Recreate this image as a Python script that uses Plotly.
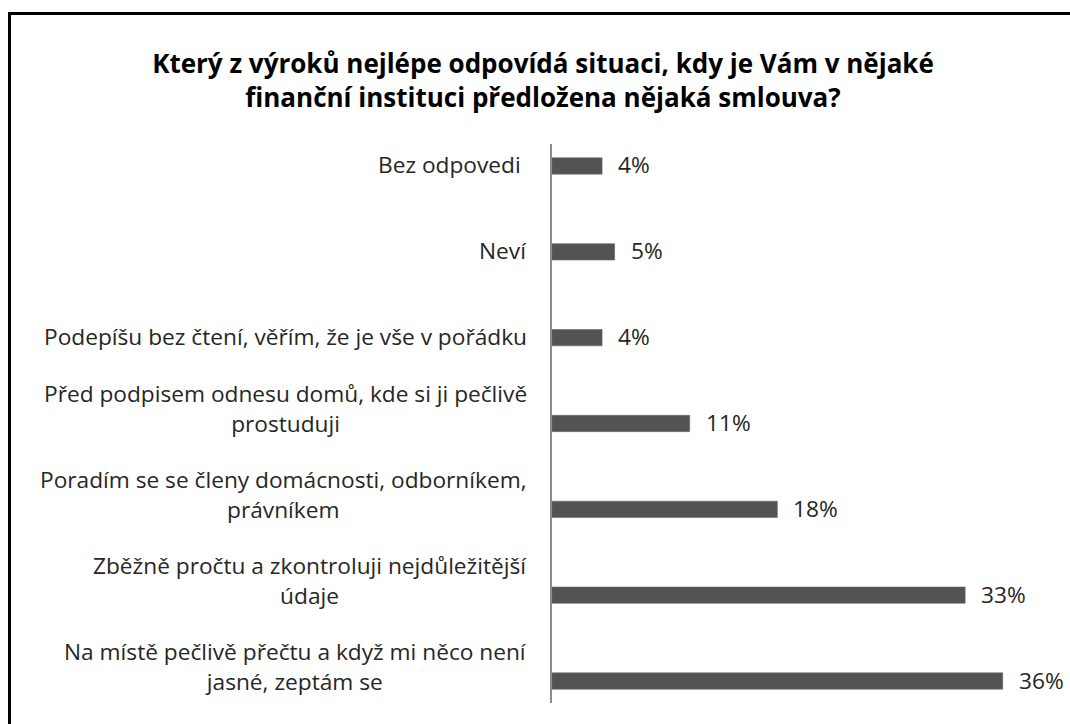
import plotly.graph_objects as go

categories = [
    "Na místě pečlivě přečtu a když mi něco není<br>jasné, zeptám se",
    "Zběžně pročtu a zkontroluji nejdůležitější<br>údaje",
    "Poradím se se členy domácnosti, odborníkem,<br>právníkem",
    "Před podpisem odnesu domů, kde si ji pečlivě<br>prostuduji",
    "Podepíšu bez čtení, věřím, že je vše v pořádku",
    "Neví",
    "Bez odpovedi ",
]
values = [36, 33, 18, 11, 4, 5, 4]
value_labels = ["36%", "33%", "18%", "11%", "4%", "5%", "4%"]
title_text = "Který z výroků nejlépe odpovídá situaci, kdy je Vám v nějaké<br>finanční instituci předložena nějaká smlouva?"

W, H = 1070, 724
ML, MT, MB = 552, 144, 21
PW = W - ML
PH = H - MT - MB
ypos = list(range(len(categories)))

fig = go.Figure()
fig.add_trace(go.Bar(
    y=ypos, x=values, orientation="h",
    marker=dict(color="#535353", line=dict(color="#6a6a6a", width=0.6)),
    width=0.19, hoverinfo="skip",
))

font_family = "'Open Sans', 'Noto Sans', sans-serif"
ann = []
for i, (c, v, t) in enumerate(zip(categories, values, value_labels)):
    nlines = c.count("<br>") + 1
    ann.append(dict(x=0, y=i, xref="x", yref="y", text=c, showarrow=False,
                    xanchor="right", yanchor="middle", align="center",
                    xshift=-23, yshift=14 * (nlines - 1) + 1,
                    font=dict(family=font_family, size=22.7, color="#262626")))
    ann.append(dict(x=v, y=i, xref="x", yref="y", text=t, showarrow=False,
                    xanchor="left", yanchor="middle", xshift=14, yshift=1,
                    font=dict(family=font_family, size=22.7, color="#262626")))

fig.update_layout(
    width=W, height=H,
    margin=dict(l=ML, r=0, t=MT, b=MB, pad=0),
    paper_bgcolor="white", plot_bgcolor="white",
    showlegend=False,
    title=dict(text="<b>" + title_text + "</b>", x=543 / W, xanchor="center",
               xref="container",
               y=1 - 73 / H, yanchor="middle", yref="container",
               font=dict(family=font_family, size=26, color="#000000")),
    xaxis=dict(range=[0, PW / 12.52], showgrid=False, zeroline=False,
               showticklabels=False, showline=False, fixedrange=True),
    yaxis=dict(range=[-0.256, 6.256], showgrid=False, zeroline=False,
               showticklabels=False, showline=True, linecolor="#8c8c8c",
               linewidth=1.5, fixedrange=True),
    annotations=ann,
    shapes=[dict(type="rect", xref="paper", yref="paper",
                 x0=(9.5 - ML) / PW, x1=1.05,
                 y0=-0.1, y1=(H - MB - 13.5) / PH,
                 line=dict(color="black", width=3), layer="above")],
)

fig.write_html("out.html")
